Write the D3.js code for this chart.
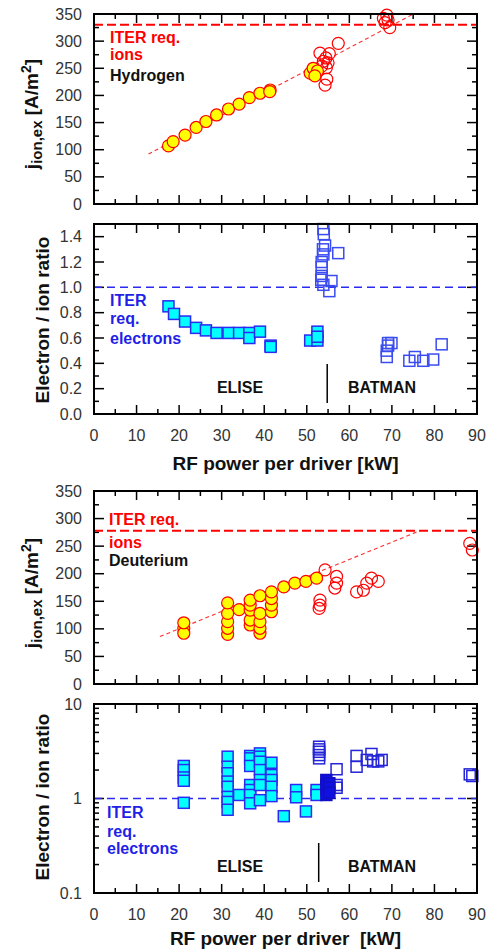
<!DOCTYPE html>
<html><head><meta charset="utf-8">
<script src="https://cdn.jsdelivr.net/npm/d3@7"></script>
<style>
body{margin:0;background:#fff}
text{font-family:"Liberation Sans",Arial,sans-serif}
</style>
</head><body>
<svg id="c" width="493" height="951"></svg>
<script>
// ---------------- data ----------------
const xTickValues = [0,10,20,30,40,50,60,70,80,90];
const ionTickValues = [0,50,100,150,200,250,300,350];
const ratioTickValues = [0.0,0.2,0.4,0.6,0.8,1.0,1.2,1.4];
const logTickValues = [0.1,1,10];

// Hydrogen - extracted ion current density
const hIonFilledX = [17.5,18.6,21.4,24.0,26.3,28.8,31.6,34.1,36.5,39.0,41.4,41.3,50.8,51.5,52.5,51.9];
const hIonFilledY = [107,115,127,141,152,164,175,184,196,204,210,207,241,250,245,236];
const hIonOpenX = [57.4,53.1,55.3,53.9,54.5,53.5,54.6,55.0,54.7,54.3,68.8,69.1,68.4,69.5,68.0];
const hIonOpenY = [296,278,277,263,269,254,251,260,230,219,348,339,334,325,342];
const hFitX = [12.8,76.0];
const hFitY = [92,354];
const hIterIon = 330;

// Hydrogen - electron/ion ratio
const hRatioFilledX = [17.5,18.8,21.4,24.0,26.3,28.8,31.6,34.1,36.5,36.5,39.0,41.5,41.5,50.8,52.5,52.5,52.5];
const hRatioFilledY = [0.85,0.79,0.73,0.68,0.66,0.64,0.64,0.64,0.64,0.60,0.65,0.54,0.53,0.58,0.65,0.58,0.61];
const hRatioOpenX = [53.9,54.0,54.3,53.9,53.5,53.5,53.5,53.4,57.4,55.8,55.3,53.9,53.8,69.1,69.1,68.8,68.8,69.9,74.1,75.4,77.4,79.7,81.7];
const hRatioOpenY = [1.46,1.42,1.33,1.26,1.20,1.16,1.09,1.06,1.27,1.05,0.97,1.02,1.30,0.56,0.54,0.50,0.45,0.56,0.42,0.45,0.42,0.43,0.55];
const hDivider = 54.8;

// Deuterium - extracted ion current density
const dIonFilledX = [21.1,21.1,21.1,31.4,31.4,31.4,31.4,31.4,34.1,36.7,36.7,36.7,36.7,36.7,39.0,39.0,39.0,39.0,39.0,41.7,41.7,41.7,41.7,44.6,47.2,49.8,52.3];
const dIonFilledY = [101,92,111,90,101,113,128,147,135,107,116,134,143,152,92,101,113,128,160,131,143,155,167,176,183,186,192];
const dIonOpenX = [54.3,57.0,57.0,56.6,53.1,53.1,52.9,61.7,63.3,64.1,65.2,66.8,88.3,88.9];
const dIonOpenY = [207,195,183,174,152,143,137,167,170,183,192,186,255,243];
const dFitX = [15.5,76.6];
const dFitY = [86,278];
const dIterIon = 278;

// Deuterium - electron/ion ratio
const dRatioFilledX = [21.1,21.1,21.1,21.1,21.1,31.4,31.4,31.4,31.4,31.4,31.4,31.4,31.4,34.1,36.7,36.7,36.7,36.7,36.7,36.7,36.7,39.0,39.0,39.0,39.0,39.0,39.0,39.0,41.7,41.7,41.7,41.7,41.7,44.6,47.5,47.5,49.8,52.3,52.3];
const dRatioFilledY = [2.21,2.0,1.67,1.54,0.90,2.77,2.17,1.85,1.51,1.33,1.04,0.92,0.76,1.09,2.82,2.66,2.21,1.39,1.23,1.09,0.89,3.0,2.77,2.45,2.0,1.57,1.39,0.96,2.39,1.77,1.57,1.33,1.06,0.65,1.23,1.03,0.73,1.23,1.09];
const dRatioDarkX = [54.6,54.6,54.6,54.6,55.3,55.3,55.3];
const dRatioDarkY = [1.57,1.39,1.23,1.09,1.45,1.30,1.15];
const dRatioOpenX = [52.9,52.9,52.9,52.9,52.9,57.0,57.0,57.0,61.7,61.7,64.1,65.2,65.6,66.8,67.6,88.3,88.9];
const dRatioOpenY = [3.53,3.31,3.12,2.88,2.66,2.04,1.39,1.30,2.82,2.17,2.56,2.96,2.47,2.47,2.56,1.80,1.73];
const dDivider = 52.8;

const iterRatio = 1.0;

// ---------------- drawing ----------------
const svg = d3.select("#c");
const L = 94, R = 477;
const x = d3.scaleLinear().domain([0,90]).range([L,R]);
const RED = "#ff0000", BLUE = "#2a2af0";
let clipId = 0;

function panel(top, bottom, yScale, opts){
  const g = svg.append("g");
  const id = "clip" + (clipId++);
  svg.append("clipPath").attr("id", id).append("rect")
    .attr("x", L).attr("y", top).attr("width", R-L).attr("height", bottom-top);
  const xMinor = d3.range(0,91,5);
  xMinor.forEach(v => {
    const len = v % 10 === 0 ? 9 : 5;
    g.append("line").attr("x1",x(v)).attr("x2",x(v)).attr("y1",bottom).attr("y2",bottom-len)
      .attr("stroke","#000").attr("stroke-width",1.5);
    g.append("line").attr("x1",x(v)).attr("x2",x(v)).attr("y1",top).attr("y2",top+len)
      .attr("stroke","#000").attr("stroke-width",1.5);
  });
  opts.yTicks.forEach(t => {
    const yy = yScale(t.v);
    g.append("line").attr("x1",L).attr("x2",L+t.len).attr("y1",yy).attr("y2",yy).attr("stroke","#000").attr("stroke-width",1.5);
    g.append("line").attr("x1",R).attr("x2",R-t.len).attr("y1",yy).attr("y2",yy).attr("stroke","#000").attr("stroke-width",1.5);
  });
  opts.yLabels.forEach(v => {
    g.append("text").attr("x",82).attr("y",yScale(v)+5.5).attr("text-anchor","end")
      .attr("fill","#333").style("font-size","16px").text(opts.fmt(v));
  });
  if (opts.xLabels){
    xTickValues.forEach(v => {
      g.append("text").attr("x",x(v)).attr("y",bottom+27).attr("text-anchor","middle")
        .attr("fill","#333").style("font-size","16px").text(v);
    });
  }
  return {g, clip: "url(#" + id + ")"};
}

function circles(g, xs, ys, yScale, fill){
  g.selectAll(null).data(xs.map((v,i)=>[v,ys[i]])).enter().append("circle")
    .attr("cx", d=>x(d[0])).attr("cy", d=>yScale(d[1])).attr("r",6)
    .attr("fill", fill).attr("stroke", RED).attr("stroke-width",1.2);
}
function squares(g, xs, ys, yScale, fill, stroke){
  g.selectAll(null).data(xs.map((v,i)=>[v,ys[i]])).enter().append("rect")
    .attr("x", d=>x(d[0])-5.5).attr("y", d=>yScale(d[1])-5.5).attr("width",11).attr("height",11)
    .attr("fill", fill).attr("stroke", stroke).attr("stroke-width",1.5);
}
function hline(g, yy, color, w, dash){
  g.append("line").attr("x1",L).attr("x2",R).attr("y1",yy).attr("y2",yy)
    .attr("stroke",color).attr("stroke-width",w).attr("stroke-dasharray",dash);
}
function fit(g, clip, xs, ys, yScale){
  g.append("path").attr("clip-path",clip)
    .attr("d", d3.line().x(d=>x(d[0])).y(d=>yScale(d[1]))(xs.map((v,i)=>[v,ys[i]])))
    .attr("fill","none").attr("stroke","#ff3030").attr("stroke-width",1.1).attr("stroke-dasharray","4,3");
}
function frame(top,bottom){
  svg.append("rect").attr("x",L).attr("y",top).attr("width",R-L).attr("height",bottom-top)
    .attr("fill","none").attr("stroke","#000").attr("stroke-width",2);
}
function label(lines, x0, color){
  lines.forEach(l => {
    svg.append("text").attr("x",x0).attr("y",l[1]).attr("fill",l[2]||color)
      .style("font-size","16px").style("font-weight","bold").text(l[0]);
  });
}
function machineLabels(yScale, divider, bottom, yBase){
  svg.append("text").attr("x",240).attr("y",yBase).attr("text-anchor","middle")
    .style("font-size","16px").style("font-weight","bold").attr("fill","#111").text("ELISE");
  svg.append("text").attr("x",382).attr("y",yBase).attr("text-anchor","middle")
    .style("font-size","16px").style("font-weight","bold").attr("fill","#111").text("BATMAN");
  svg.append("line").attr("x1",x(divider)).attr("x2",x(divider)).attr("y1",bottom-50).attr("y2",bottom-11)
    .attr("stroke","#000").attr("stroke-width",1.5);
}
function jTitle(cy){
  const t = svg.append("text").attr("transform",`translate(38,${cy}) rotate(-90)`)
    .attr("text-anchor","middle").style("font-weight","bold").style("font-size","19px").attr("fill","#111");
  t.append("tspan").text("j");
  t.append("tspan").attr("dy",4).style("font-size","15px").text("ion,ex");
  t.append("tspan").attr("dy",-4).text(" [A/m");
  t.append("tspan").attr("dy",-7).style("font-size","14px").text("2");
  t.append("tspan").attr("dy",7).text("]");
}
function ratioTitle(cy){
  svg.append("text").attr("transform",`translate(48.5,${cy}) rotate(-90)`)
    .attr("text-anchor","middle").style("font-weight","bold").style("font-size","19px").attr("fill","#111")
    .text("Electron / ion ratio");
}
function xTitle(yy, txt){
  svg.append("text").attr("x",(L+R)/2).attr("y",yy).attr("text-anchor","middle")
    .style("font-weight","bold").style("font-size","19px").attr("fill","#111").style("white-space","pre").text(txt);
}

// Panel 1
const y1 = d3.scaleLinear().domain([0,350]).range([204,14]);
const p1 = panel(14,204,y1,{
  yTicks: d3.range(0,351,25).map(v=>({v, len: v%50===0?10:5})),
  yLabels: ionTickValues, fmt: d=>d, xLabels:false});
hline(p1.g, y1(hIterIon), RED, 2, "9,4");
fit(p1.g, p1.clip, hFitX, hFitY, y1);
circles(p1.g, hIonOpenX, hIonOpenY, y1, "none");
circles(p1.g, hIonFilledX, hIonFilledY, y1, "#ffff00");
frame(14,204);
label([["ITER req.",42.5],["ions",60],["Hydrogen",81,"#111"]],110,RED);
jTitle(114);

// Panel 2
const y2 = d3.scaleLinear().domain([0,1.5]).range([414,224]);
const p2 = panel(224,414,y2,{
  yTicks: d3.range(0,16,1).map(i=>({v:i/10, len: i%2===0?10:5})),
  yLabels: ratioTickValues, fmt: d3.format(".1f"), xLabels:true});
hline(p2.g, y2(iterRatio), BLUE, 1.5, "8,5");
squares(p2.g, hRatioOpenX, hRatioOpenY, y2, "none", "#3a4cf0");
squares(p2.g, hRatioFilledX, hRatioFilledY, y2, "#00ffff", BLUE);
frame(224,414);
label([["ITER",305.5],["req.",323.5],["electrons",343.5]],110,"#1f1fe8");
machineLabels(y2, hDivider, 414, 392.5);
ratioTitle(320);
xTitle(470, "RF power per driver [kW]");

// Panel 3
const y3 = d3.scaleLinear().domain([0,350]).range([684,491]);
const p3 = panel(491,684,y3,{
  yTicks: d3.range(0,351,25).map(v=>({v, len: v%50===0?10:5})),
  yLabels: ionTickValues, fmt: d=>d, xLabels:false});
hline(p3.g, y3(dIterIon), RED, 2, "9,4");
fit(p3.g, p3.clip, dFitX, dFitY, y3);
circles(p3.g, dIonOpenX, dIonOpenY, y3, "none");
circles(p3.g, dIonFilledX, dIonFilledY, y3, "#ffff00");
frame(491,684);
label([["ITER req.",525],["ions",547.5],["Deuterium",566,"#111"]],109,RED);
jTitle(593);

// Panel 4
const y4 = d3.scaleLog().domain([0.1,10]).range([893,704]);
const logTicks = [];
[0.1,1].forEach(b => { for (let k=1;k<=9;k++) logTicks.push({v:b*k, len: k===1?10:5}); });
logTicks.push({v:10,len:10});
const p4 = panel(704,893,y4,{
  yTicks: logTicks, yLabels: logTickValues, fmt: d=>d, xLabels:true});
hline(p4.g, y4(iterRatio), BLUE, 1.5, "8,5");
squares(p4.g, dRatioOpenX, dRatioOpenY, y4, "none", "#2424d8");
squares(p4.g, dRatioFilledX, dRatioFilledY, y4, "#00ffff", BLUE);
squares(p4.g, dRatioDarkX, dRatioDarkY, y4, "#1010e0", "#1010c0");
frame(704,893);
label([["ITER",818],["req.",836.5],["electrons",853.5]],107,"#1f1fe8");
machineLabels(y4, dDivider, 893, 871.5);
ratioTitle(797);
xTitle(945, "RF power per driver  [kW]");
</script>
</body></html>
